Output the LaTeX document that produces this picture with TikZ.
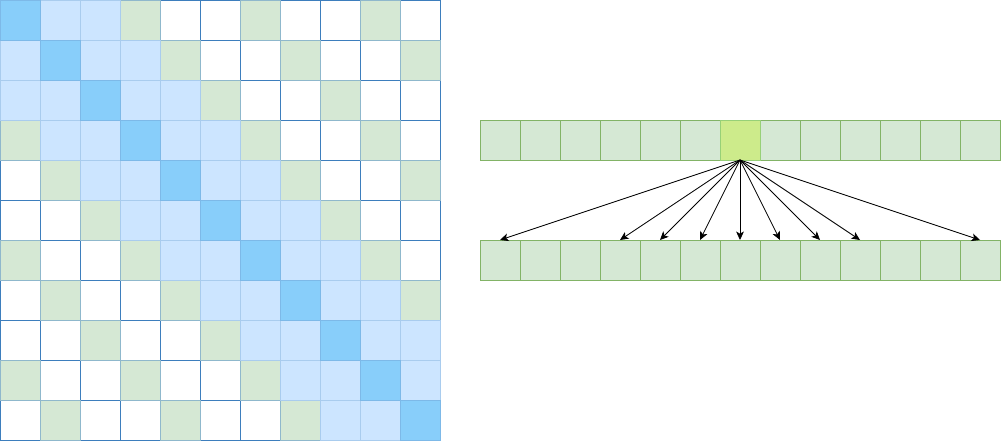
\documentclass[tikz,border=0pt]{standalone}
\usepackage{tikz}
\usetikzlibrary{arrows.meta}
\definecolor{darkcell}{HTML}{88CEFA}
\definecolor{darkline}{HTML}{7DB9E8}
\definecolor{nearcell}{HTML}{CCE5FF}
\definecolor{nearline}{HTML}{A9CCEE}
\definecolor{farcell}{HTML}{D5E8D4}
\definecolor{farline}{HTML}{8FB8CC}
\definecolor{emptyline}{HTML}{3D7EBD}
\definecolor{slotfill}{HTML}{D5E8D4}
\definecolor{slotline}{HTML}{82B366}
\definecolor{focusfill}{HTML}{CDEB8B}
\definecolor{focusline}{HTML}{97D077}
\tikzstyle{cell} = [rectangle, minimum width=1cm, minimum height=1cm, inner sep=0pt, outer sep=0pt, line width=0.7pt]
\tikzstyle{slot} = [cell, draw=slotline, fill=slotfill]
\tikzstyle{focus} = [cell, draw=focusline, fill=focusfill]
\tikzstyle{arrow} = [->, >={Stealth[length=6pt,width=5.5pt,inset=1.5pt]}, line width=0.6pt]

\begin{document}
\begin{tikzpicture}[y=-1cm]
\useasboundingbox (0,0) rectangle (25.05,11.025);

% attention grid, drawn by level so the stronger borders stay on top
\foreach \k/\fl/\ln in {0/white/emptyline, 1/farcell/farline, 2/nearcell/nearline, 3/darkcell/darkline} {
  \foreach \r in {0,...,10} {
    \foreach \c in {0,...,10} {
      \pgfmathtruncatemacro{\d}{abs(\r-\c)}
      \pgfmathtruncatemacro{\lvl}{\d==0 ? 3 : (\d<3 ? 2 : (mod(\d,3)==0 ? 1 : 0))}
      \ifnum\lvl=\k
        \node (c-\r-\c) [cell, fill=\fl, draw=\ln] at (\c+0.5,\r+0.5) {};
      \fi
    }
  }
}

% query row and key row
\foreach \k in {0,...,12} {
  \node (b-\k) [slot] at (12.5+\k,6.5) {};
}
\foreach \k in {0,...,5,7,8,9,10,11,12} {
  \node (a-\k) [slot] at (12.5+\k,3.5) {};
}
\node (a-6) [focus] at (18.5,3.5) {};

\foreach \t in {0,3,4,5,6,7,8,9,12}
  \draw [arrow] (a-6.south) -- (b-\t.north);

\end{tikzpicture}
\end{document}
